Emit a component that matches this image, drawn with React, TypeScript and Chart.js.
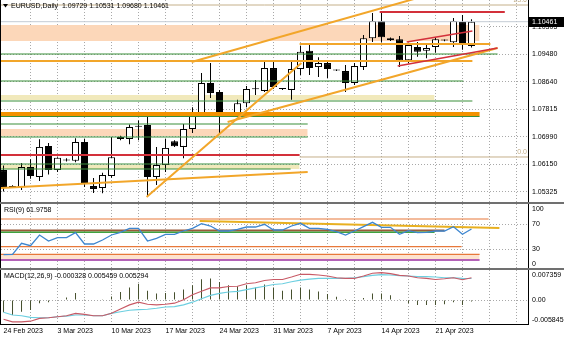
import React, { useEffect, useRef } from "react";
import { Chart, registerables } from "chart.js";

Chart.register(...registerables);

// ---------------- text ----------------
const TITLE_MAIN = "EURUSD,Daily  1.09729 1.10531 1.09680 1.10461";
const TITLE_RSI = "RSI(9) 61.9758";
const TITLE_MACD = "MACD(12,26,9) -0.000328 0.005459 0.005294";

// ---------------- categories (bar index 0 = 24 Feb 2023, daily incl. Sunday bars) ----------------
const DATE_LABELS = ["24 Feb 2023", "3 Mar 2023", "10 Mar 2023", "17 Mar 2023", "24 Mar 2023", "31 Mar 2023", "7 Apr 2023", "14 Apr 2023", "21 Apr 2023"];
const DATE_BARS = [0, 6, 12, 18, 24, 30, 36, 42, 48];

// ---------------- price series ----------------
const OPEN = [1.0598, 1.0547, 1.0547, 1.0607, 1.0577, 1.0671, 1.0598, 1.0627, 1.0626, 1.0683, 1.055, 1.0544, 1.058, 1.0698, 1.0692, 1.0731, 1.0734, 1.0577, 1.0613, 1.0685, 1.0668, 1.0722, 1.077, 1.0861, 1.0834, 1.077, 1.0767, 1.08, 1.0842, 1.0837, 1.0906, 1.0844, 1.084, 1.0903, 1.0958, 1.0909, 1.0921, 1.09, 1.0897, 1.0861, 1.0909, 1.0996, 1.1048, 1.099, 1.0993, 1.093, 1.097, 1.0958, 1.097, 1.099, 1.0984, 1.1045, 1.09729];
const HIGH = [1.0612, 1.0552, 1.0619, 1.0631, 1.0691, 1.068, 1.0637, 1.0634, 1.0694, 1.0692, 1.0574, 1.059, 1.0698, 1.0702, 1.0736, 1.0748, 1.0758, 1.0668, 1.0692, 1.0688, 1.0737, 1.0788, 1.0891, 1.0921, 1.084, 1.0773, 1.081, 1.0852, 1.087, 1.0924, 1.0924, 1.0846, 1.093, 1.0973, 1.0976, 1.0939, 1.0925, 1.0902, 1.0915, 1.0921, 1.1006, 1.1072, 1.1075, 1.0998, 1.1003, 1.0982, 1.0985, 1.0976, 1.0999, 1.0992, 1.1057, 1.1066, 1.10531];
const LOW = [1.0533, 1.0544, 1.0538, 1.0572, 1.0565, 1.0585, 1.0592, 1.0624, 1.0622, 1.0547, 1.0529, 1.0528, 1.0575, 1.0688, 1.0676, 1.0688, 1.0517, 1.0553, 1.0592, 1.0668, 1.0634, 1.071, 1.0758, 1.0816, 1.071, 1.0762, 1.0762, 1.0788, 1.0825, 1.0834, 1.0843, 1.084, 1.081, 1.0885, 1.0885, 1.0879, 1.0876, 1.0897, 1.0834, 1.0855, 1.09, 1.0985, 1.0984, 1.0988, 1.0909, 1.0921, 1.094, 1.0936, 1.0952, 1.0987, 1.097, 1.0961, 1.0968];
const CLOSE = [1.0547, 1.0549, 1.0607, 1.058, 1.0668, 1.0598, 1.0635, 1.0628, 1.0683, 1.0556, 1.0541, 1.0583, 1.0637, 1.0692, 1.0728, 1.0729, 1.0577, 1.0613, 1.0665, 1.067, 1.0722, 1.077, 1.0861, 1.0831, 1.0758, 1.0767, 1.08, 1.0843, 1.0845, 1.0906, 1.0849, 1.0843, 1.0903, 1.0955, 1.0906, 1.0921, 1.0903, 1.0899, 1.0861, 1.0912, 1.0996, 1.1048, 1.0999, 1.0996, 1.093, 1.0976, 1.0955, 1.0967, 1.0993, 1.0989, 1.1048, 1.0976, 1.10461];
const LAST_PRICE = 1.10461;
const PRICE_TICKS = [1.10305, 1.0948, 1.0864, 1.07815, 1.0699, 1.0615, 1.05325];
const PRICE_MAX = 1.11116;
const PRICE_MIN = 1.05016;
const BAR_MIN = -0.28;
const BAR_MAX = 58.28;

// ---------------- indicator series ----------------
const RSI = [21, 21.5, 39.1, 35.3, 52.4, 42.8, 48.1, 48.1, 56.1, 38.0, 38.0, 44.4, 52.4, 56.7, 63.1, 63.1, 42.8, 47.1, 53.5, 53.5, 58.8, 63.1, 70.5, 66.8, 58.8, 58.8, 61.5, 65.2, 65.2, 69.5, 60.4, 60.4, 66.8, 71.1, 63.1, 63.1, 61.5, 57.8, 52.4, 58.8, 65.7, 72.7, 64.7, 64.7, 53.5, 59.4, 56.1, 56.7, 58.8, 58.8, 65.7, 53.5, 61.98];
const RSI_TICKS = [100, 70, 30, 0];
const RSI_LEVELS = [70, 30];
const RSI_MIN = -0.4;
const RSI_MAX = 102;

const MACD_MAIN = [-0.00466, -0.00533, -0.00533, -0.00515, -0.00448, -0.00433, -0.00408, -0.00383, -0.00324, -0.00349, -0.00383, -0.00383, -0.00324, -0.00217, -0.00117, -0.0005, -0.001, -0.00117, -0.001, -0.00075, 0.00007, 0.00132, 0.00214, 0.00299, 0.00299, 0.00331, 0.00339, 0.00398, 0.00423, 0.00481, 0.00505, 0.00505, 0.00563, 0.0063, 0.0063, 0.00613, 0.00588, 0.00548, 0.0053, 0.0053, 0.00588, 0.00655, 0.00672, 0.00647, 0.00605, 0.00588, 0.00548, 0.0053, 0.00505, 0.00523, 0.00548, 0.00498, 0.00546];
const MACD_SIGNAL = [-0.00299, -0.00366, -0.00383, -0.00423, -0.00433, -0.00433, -0.00408, -0.00391, -0.00366, -0.00366, -0.00383, -0.00383, -0.00324, -0.00284, -0.00249, -0.00234, -0.00224, -0.00199, -0.00167, -0.00159, -0.00117, -0.0005, 0.00032, 0.00115, 0.00164, 0.00199, 0.00214, 0.00256, 0.00299, 0.00339, 0.00381, 0.00398, 0.00448, 0.00488, 0.00513, 0.0053, 0.0053, 0.0053, 0.0053, 0.00548, 0.00573, 0.00605, 0.00623, 0.00613, 0.00598, 0.00588, 0.00573, 0.00573, 0.00563, 0.00548, 0.00548, 0.0053, 0.00529];
const MACD_HIST = [-0.003, -0.00366, -0.00284, -0.00242, -0.00075, -0.0005, -0.0001, 0.00065, 0.00174, 0.0002, -0.0001, 0.0001, 0.0009, 0.002, 0.0031, 0.004, 0.0023, 0.00164, 0.00174, 0.0019, 0.0026, 0.0036, 0.0051, 0.0053, 0.0044, 0.0036, 0.0034, 0.0036, 0.0031, 0.0038, 0.0031, 0.0023, 0.0026, 0.0031, 0.0026, 0.0021, 0.0015, 0.0008, 0.00025, -0.0002, 0.0005, 0.0016, 0.0016, 0.0012, 0.0001, -0.00075, -0.0012, -0.0012, -0.0012, -0.001, -0.0005, -0.0012, -0.000328];
const MACD_MAX = 0.007359;
const MACD_MIN = -0.005845;
const MACD_TICKS = [MACD_MAX, 0, MACD_MIN];

// ---------------- drawn objects (price, fromBar, toBar) ----------------
const GREEN_LEVELS = [[1.09485, -1, 54.9], [1.0867, -1, 51.1], [1.08066, -1, 52.1], [1.07598, -1, 52.9], [1.07371, -1, 33.8], [1.06979, -1, 33.8], [1.06163, -1, 32.9], [1.06012, -1, 31.9]];
const ORANGE_LEVELS = [[1.09787, 32.9, 54.1], [1.09274, -1, 52.1]];
const HEAVY_ORANGE_LEVELS = [[1.07673, -1, 52.9]];
const RED_LEVELS = [[1.10754, 41.8, 55.7], [1.06435, -1, 32.9]];
const FIB_LEVELS: [number, number, number, string][] = [[1.10965, -1, 60, "23.6"], [1.06375, 32.9, 60, "0.0"]];
const PEACH_BANDS = [[1.10361, 1.09878, -1, 52.9], [1.0722, 1.07009, -1, 33.8]];
const YELLOW_BANDS = [[1.08247, 1.08096, -1, 47.9], [1.06133, 1.06012, -1, 32.9]];
// trend lines: [[bar, price], [bar, price]]
const ORANGE_TRENDS = [
  [[20.9, 1.09244], [48, 1.11331]],
  [[15.9, 1.05167], [33.1, 1.09213]],
  [[24.9, 1.07432], [54.9, 1.09666]],
  [[-1, 1.05429], [33.8, 1.05922]],
];
const RED_TRENDS = [
  [[44.8, 1.09848], [52.1, 1.1018]],
  [[43.8, 1.09123], [54.9, 1.09666]],
];
// RSI window objects: [value, fromBar, toBar]
const RSI_ORANGE_LEVELS = [[78, -1, 53.9], [33.7, -1, 50.9], [21.5, -1, 52.9]];
const RSI_BROWN_LEVELS = [[59.6, -1, 49]];
const RSI_GREEN_LEVELS = [[56.7, -1, 47.9]];
const RSI_PURPLE_LEVELS = [[12.4, -1, 52.9]];
const RSI_BANDS = [[21.5, 13.5, -1, 52.9]];
const RSI_TRENDS = [[[21.8, 74.8], [55.1, 63.6]]];

// ---------------- styles ----------------
const FONT_FAMILY = '"Liberation Sans", Arial, Helvetica, sans-serif';
const FONT_SIZE = 7;
const FONT = { family: FONT_FAMILY, size: FONT_SIZE };
const FONT_STR = `${FONT_SIZE}px ${FONT_FAMILY}`;
const AXIS_W = 36;
const GRID = "#a8a8a8";
const TRANSPARENT = "rgba(0,0,0,0)";
const C = {
  green: "#3b8f3b",
  orange: "#f2a62a",
  heavyOrange: "#f39200",
  red: "#d3303a",
  fib: "#c5b08a",
  bid: "#c4ccd4",
  peach: "#fcd7b9",
  yellow: "#f1e9bb",
  rsiPeach: "#fde3cf",
  rsiLine: "#3d86d0",
  brown: "#9a5a3a",
  purple: "#9b2fa0",
  macdRed: "#c85a66",
  macdCyan: "#6ccfe0",
  hist: "#46502e",
};

// ---------------- helpers ----------------
function hline(v: number, from: number, to: number, color: string, width: number, order: number): any {
  return { type: "line", data: [{ x: from, y: v }, { x: to, y: v }], borderColor: color, borderWidth: width, pointRadius: 0, fill: false, order };
}
function tline(p: number[][], color: string, width: number, order: number): any {
  return { type: "line", data: [{ x: p[0][0], y: p[0][1] }, { x: p[1][0], y: p[1][1] }], borderColor: color, borderWidth: width, pointRadius: 0, fill: false, order };
}
function band(top: number, bottom: number, from: number, to: number, color: string, order: number): any {
  return { type: "line", data: [{ x: from, y: top }, { x: to, y: top }], borderWidth: 0, borderColor: TRANSPARENT, backgroundColor: color, pointRadius: 0, fill: { value: bottom }, order };
}

function xScale(showLabels: boolean): any {
  return {
    type: "linear",
    position: "bottom",
    min: BAR_MIN,
    max: BAR_MAX,
    offset: false,
    afterBuildTicks: (s: any) => {
      const t: any[] = [];
      for (let v = 0; v <= BAR_MAX; v += 3) t.push({ value: v });
      s.ticks = t;
    },
    afterFit: (s: any) => {
      s.height = showLabels ? 14 : 0;
    },
    grid: { offset: false, drawTicks: false, lineWidth: 1, color: (c: any) => (c.tick && c.tick.value > 0 ? GRID : TRANSPARENT) },
    border: { display: false, dash: [1, 2] },
    ticks: {
      display: showLabels,
      autoSkip: false,
      maxRotation: 0,
      minRotation: 0,
      align: "start",
      padding: 3,
      color: "#000",
      font: FONT,
      callback: (v: number) => {
        const k = DATE_BARS.indexOf(v);
        return k >= 0 ? DATE_LABELS[k] : "";
      },
    },
  };
}

function yScale(min: number, max: number, ticks: number[], gridFor: (v: number) => boolean): any {
  return {
    type: "linear",
    position: "right",
    min,
    max,
    beginAtZero: false,
    afterBuildTicks: (s: any) => {
      s.ticks = ticks.map((v) => ({ value: v }));
    },
    afterFit: (s: any) => {
      s.width = AXIS_W;
    },
    grid: { drawTicks: false, lineWidth: 1, color: (c: any) => (c.tick && gridFor(c.tick.value) ? GRID : TRANSPARENT) },
    border: { display: true, color: "#000", width: 1, dash: [1, 2] },
    ticks: { display: false },
  };
}

function baseOptions(scales: any): any {
  return {
    responsive: false,
    maintainAspectRatio: false,
    animation: false,
    devicePixelRatio: 1,
    events: [],
    layout: { padding: { left: 1, right: 0, top: 0, bottom: 0 }, autoPadding: false },
    plugins: { legend: { display: false }, tooltip: { enabled: false } },
    scales,
  };
}

const framePlugin = (bottom: boolean) => ({
  id: "frame",
  afterDraw(chart: any) {
    const { ctx, chartArea: a } = chart;
    ctx.save();
    ctx.strokeStyle = "#000";
    ctx.lineWidth = 1;
    ctx.beginPath();
    ctx.moveTo(a.left - 0.5, a.top);
    ctx.lineTo(a.left - 0.5, a.bottom + 1);
    if (bottom) {
      ctx.moveTo(a.left - 1, a.bottom + 0.5);
      ctx.lineTo(a.right + 1, a.bottom + 0.5);
    }
    ctx.stroke();
    ctx.restore();
  },
});

const titlePlugin = (text: string, x: number) => ({
  id: "title-text",
  afterDraw(chart: any) {
    const ctx = chart.ctx;
    ctx.save();
    ctx.font = FONT_STR;
    ctx.fillStyle = "#000";
    ctx.textAlign = "left";
    ctx.textBaseline = "middle";
    ctx.fillText(text, x, 6);
    ctx.restore();
  },
});

// right-side value labels at the y scale's ticks (kept inside the window like MT4 does)
const sideLabelsPlugin = (format: (v: number) => string) => ({
  id: "side-labels",
  afterDraw(chart: any) {
    const { ctx, chartArea: a } = chart;
    const s = chart.scales.y;
    ctx.save();
    ctx.font = FONT_STR;
    ctx.fillStyle = "#000";
    ctx.textAlign = "left";
    ctx.textBaseline = "middle";
    s.ticks.forEach((t: any) => {
      let y = s.getPixelForValue(t.value);
      y = Math.min(Math.max(y, a.top + 5), a.bottom - 3.5);
      ctx.fillText(format(t.value), a.right + 4, y);
    });
    ctx.restore();
  },
});

const mainOverlayPlugin = {
  id: "main-overlay",
  afterDraw(chart: any) {
    const { ctx, chartArea: a } = chart;
    const y = chart.scales.y;
    ctx.save();
    ctx.fillStyle = "#000";
    ctx.beginPath();
    ctx.moveTo(3, 4);
    ctx.lineTo(8, 4);
    ctx.lineTo(5.5, 7.5);
    ctx.closePath();
    ctx.fill();
    ctx.font = FONT_STR;
    ctx.textAlign = "left";
    ctx.textBaseline = "middle";
    ctx.fillText(TITLE_MAIN, 11, 6);
    ctx.fillStyle = C.fib;
    ctx.textAlign = "right";
    ctx.textBaseline = "bottom";
    FIB_LEVELS.forEach((f) => ctx.fillText(f[3], a.right - 1, y.getPixelForValue(f[0]) - 1));
    const py = Math.round(y.getPixelForValue(LAST_PRICE));
    ctx.fillStyle = "#000";
    ctx.fillRect(a.right + 1, py - 5, AXIS_W, 10);
    ctx.fillStyle = "#fff";
    ctx.textAlign = "left";
    ctx.textBaseline = "middle";
    ctx.fillText(LAST_PRICE.toFixed(5), a.right + 4, py);
    ctx.restore();
  },
};

// ---------------- configs ----------------
function mainConfig(): any {
  const datasets: any[] = [
    ...PEACH_BANDS.map((b) => band(b[0], b[1], b[2], b[3], C.peach, 100)),
    ...YELLOW_BANDS.map((b) => band(b[0], b[1], b[2], b[3], C.yellow, 100)),
    {
      type: "bar",
      data: OPEN.map((_, i) => ({ x: i, y: [LOW[i], HIGH[i]] })),
      backgroundColor: "#000",
      borderWidth: 0,
      barThickness: 1,
      grouped: false,
      inflateAmount: 0,
      order: 60,
    },
    {
      type: "bar",
      data: OPEN.map((o, i) => ({ x: i, y: [o, CLOSE[i]] })),
      backgroundColor: OPEN.map((o, i) => (CLOSE[i] >= o ? "#fff" : "#000")),
      borderColor: "#000",
      borderWidth: 1,
      borderSkipped: false,
      barThickness: 7,
      grouped: false,
      minBarLength: 1,
      inflateAmount: 0,
      order: 55,
    },
    hline(LAST_PRICE, BAR_MIN - 1, BAR_MAX + 1, C.bid, 1, 50),
    ...FIB_LEVELS.map((f) => hline(f[0], f[1], f[2], C.fib, 1, 40)),
    ...GREEN_LEVELS.map((l) => hline(l[0], l[1], l[2], C.green, 1.2, 30)),
    ...HEAVY_ORANGE_LEVELS.map((l) => hline(l[0], l[1], l[2], C.heavyOrange, 4, 29)),
    ...ORANGE_LEVELS.map((l) => hline(l[0], l[1], l[2], C.orange, 2.2, 28)),
    ...RED_LEVELS.map((l) => hline(l[0], l[1], l[2], C.red, 1.8, 27)),
    ...ORANGE_TRENDS.map((t) => tline(t, C.orange, 2, 20)),
    ...RED_TRENDS.map((t) => tline(t, C.red, 1.6, 19)),
  ];
  return {
    type: "line",
    data: { datasets },
    options: baseOptions({
      x: xScale(false),
      y: yScale(PRICE_MIN, PRICE_MAX, PRICE_TICKS, () => true),
    }),
    plugins: [framePlugin(false), sideLabelsPlugin((v) => v.toFixed(5)), mainOverlayPlugin],
  };
}

function rsiConfig(): any {
  const datasets: any[] = [
    ...RSI_BANDS.map((b) => band(b[0], b[1], b[2], b[3], C.rsiPeach, 100)),
    ...RSI_ORANGE_LEVELS.map((l) => hline(l[0], l[1], l[2], "#e8783a", 1.2, 30)),
    ...RSI_BROWN_LEVELS.map((l) => hline(l[0], l[1], l[2], C.brown, 2.2, 29)),
    ...RSI_GREEN_LEVELS.map((l) => hline(l[0], l[1], l[2], "#3fa33f", 1.6, 28)),
    ...RSI_PURPLE_LEVELS.map((l) => hline(l[0], l[1], l[2], C.purple, 1.4, 27)),
    ...RSI_TRENDS.map((t) => tline(t, "#e8b020", 2.2, 20)),
    {
      type: "line",
      data: RSI.map((v, i) => ({ x: i, y: v })),
      borderColor: C.rsiLine,
      borderWidth: 1.3,
      pointRadius: 0,
      fill: false,
      tension: 0,
      order: 5,
    },
  ];
  return {
    type: "line",
    data: { datasets },
    options: baseOptions({
      x: xScale(false),
      y: yScale(RSI_MIN, RSI_MAX, RSI_TICKS, (v) => RSI_LEVELS.includes(v)),
    }),
    plugins: [framePlugin(false), titlePlugin(TITLE_RSI, 4), sideLabelsPlugin((v) => String(v))],
  };
}

function macdConfig(): any {
  const datasets: any[] = [
    {
      type: "bar",
      data: MACD_HIST.map((v, i) => ({ x: i, y: v })),
      backgroundColor: C.hist,
      borderWidth: 0,
      barThickness: 1,
      grouped: false,
      inflateAmount: 0,
      order: 30,
    },
    {
      type: "line",
      data: MACD_MAIN.map((v, i) => ({ x: i, y: v })),
      borderColor: C.macdRed,
      borderWidth: 1.1,
      pointRadius: 0,
      fill: false,
      order: 10,
    },
    {
      type: "line",
      data: MACD_SIGNAL.map((v, i) => ({ x: i, y: v })),
      borderColor: C.macdCyan,
      borderWidth: 1.1,
      pointRadius: 0,
      fill: false,
      order: 11,
    },
  ];
  return {
    type: "line",
    data: { datasets },
    options: baseOptions({
      x: xScale(true),
      y: yScale(MACD_MIN, MACD_MAX, MACD_TICKS, (v) => v === 0),
    }),
    plugins: [framePlugin(true), titlePlugin(TITLE_MACD, 4), sideLabelsPlugin((v) => (v === 0 ? "0.00" : v.toFixed(6)))],
  };
}

export default function App() {
  const mainRef = useRef<HTMLCanvasElement>(null);
  const rsiRef = useRef<HTMLCanvasElement>(null);
  const macdRef = useRef<HTMLCanvasElement>(null);

  useEffect(() => {
    const charts: Chart[] = [];
    if (mainRef.current) charts.push(new Chart(mainRef.current, mainConfig()));
    if (rsiRef.current) charts.push(new Chart(rsiRef.current, rsiConfig()));
    if (macdRef.current) charts.push(new Chart(macdRef.current, macdConfig()));
    return () => charts.forEach((c) => c.destroy());
  }, []);

  const sep: React.CSSProperties = { position: "absolute", left: 0, width: 564, height: 2, background: "#707070" };
  return (
    <div style={{ position: "fixed", left: 0, top: 0, width: 564, height: 338, background: "#fff", overflow: "hidden" }}>
      <canvas ref={mainRef} width={564} height={202} style={{ position: "absolute", left: 0, top: 0, width: 564, height: 202 }} />
      <div style={{ ...sep, top: 202 }} />
      <canvas ref={rsiRef} width={564} height={64} style={{ position: "absolute", left: 0, top: 204, width: 564, height: 64 }} />
      <div style={{ ...sep, top: 268 }} />
      <canvas ref={macdRef} width={564} height={68} style={{ position: "absolute", left: 0, top: 270, width: 564, height: 68 }} />
    </div>
  );
}
